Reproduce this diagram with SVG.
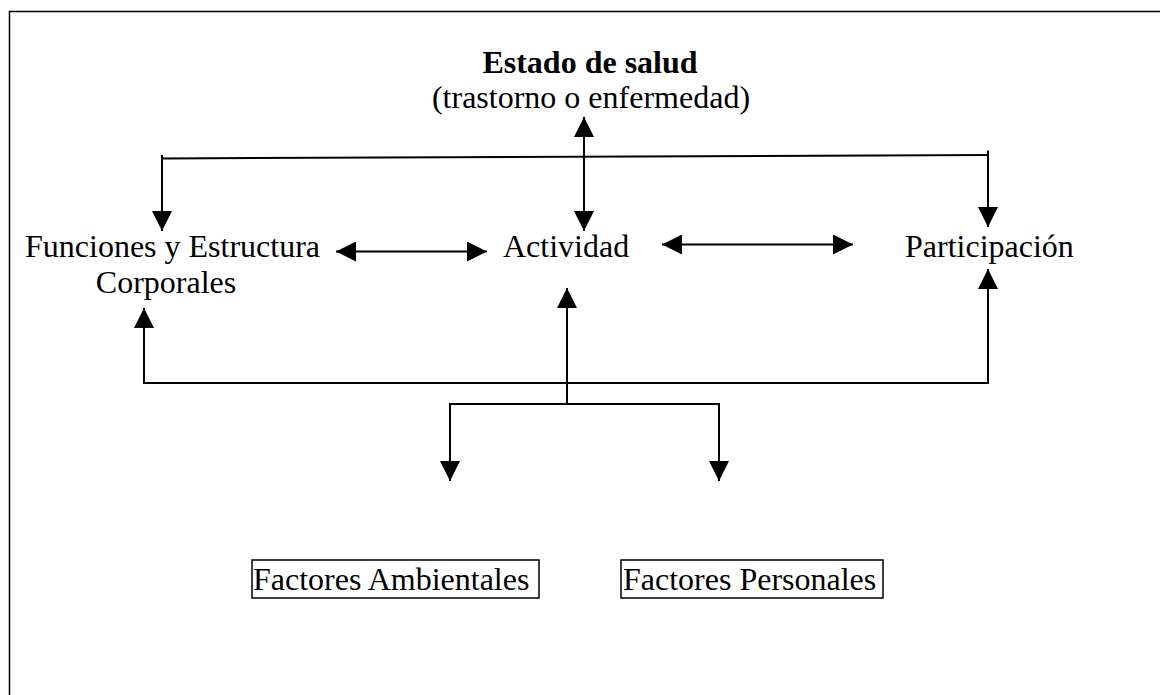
<svg xmlns="http://www.w3.org/2000/svg" width="1160" height="695" viewBox="0 0 1160 695">
<style>
  .t { font-family: "Liberation Serif", "Times New Roman", serif; font-size: 32px; fill: #000; }
  .b { font-weight: bold; }
  .ln { fill: none; stroke: #000; stroke-width: 2; }
  .box { fill: #fff; stroke: #000; stroke-width: 1.5; }
  .frame { fill: none; stroke: #000; stroke-width: 1.5; }
</style>
<defs>
  <marker id="ah" viewBox="0 0 20 20" refX="20" refY="10" markerWidth="20" markerHeight="20" markerUnits="userSpaceOnUse" orient="auto-start-reverse">
    <path d="M0,0 L20,10 L0,20 Z" fill="#000"/>
  </marker>
</defs>
<rect width="1160" height="695" fill="#fff"/>
<path class="frame" d="M9.5,695 V11.5 H1160"/>

<g id="connectors">
  <!-- top distribution line -->
  <path class="ln" d="M162,158.5 L988,155"/>
  <path class="ln" d="M162,155 V158"/>
  <path class="ln" d="M162,158 V231" marker-end="url(#ah)"/>
  <path class="ln" d="M988,150.5 V227" marker-end="url(#ah)"/>
  <!-- Estado de salud <-> Actividad -->
  <path class="ln" d="M584,117 V231" marker-start="url(#ah)" marker-end="url(#ah)"/>
  <!-- Funciones <-> Actividad -->
  <path class="ln" d="M336,251.5 H487" marker-start="url(#ah)" marker-end="url(#ah)"/>
  <!-- Actividad <-> Participacion -->
  <path class="ln" d="M662,244.5 H853" marker-start="url(#ah)" marker-end="url(#ah)"/>
  <!-- bottom distribution line -->
  <path class="ln" d="M144,308 V383 H988 V269" marker-start="url(#ah)" marker-end="url(#ah)"/>
  <path class="ln" d="M567,404 V288" marker-end="url(#ah)"/>
  <path class="ln" d="M450,481 V404 H719 V481" marker-start="url(#ah)" marker-end="url(#ah)"/>
</g>

<g id="estado">
  <text class="t b" x="590" y="73" text-anchor="middle">Estado de salud</text>
  <text class="t" x="591" y="108" text-anchor="middle">(trastorno o enfermedad)</text>
</g>
<g id="funciones">
  <text class="t" x="25" y="257">Funciones y Estructura</text>
  <text class="t" x="166" y="293" text-anchor="middle">Corporales</text>
</g>
<g id="actividad">
  <text class="t" x="503" y="257">Actividad</text>
</g>
<g id="participacion">
  <text class="t" x="905" y="257">Participación</text>
</g>
<g id="ambientales">
  <rect class="box" x="252" y="560" width="287" height="38"/>
  <text class="t" x="253" y="590">Factores Ambientales</text>
</g>
<g id="personales">
  <rect class="box" x="621" y="560" width="262" height="38"/>
  <text class="t" x="623" y="590">Factores Personales</text>
</g>
</svg>
